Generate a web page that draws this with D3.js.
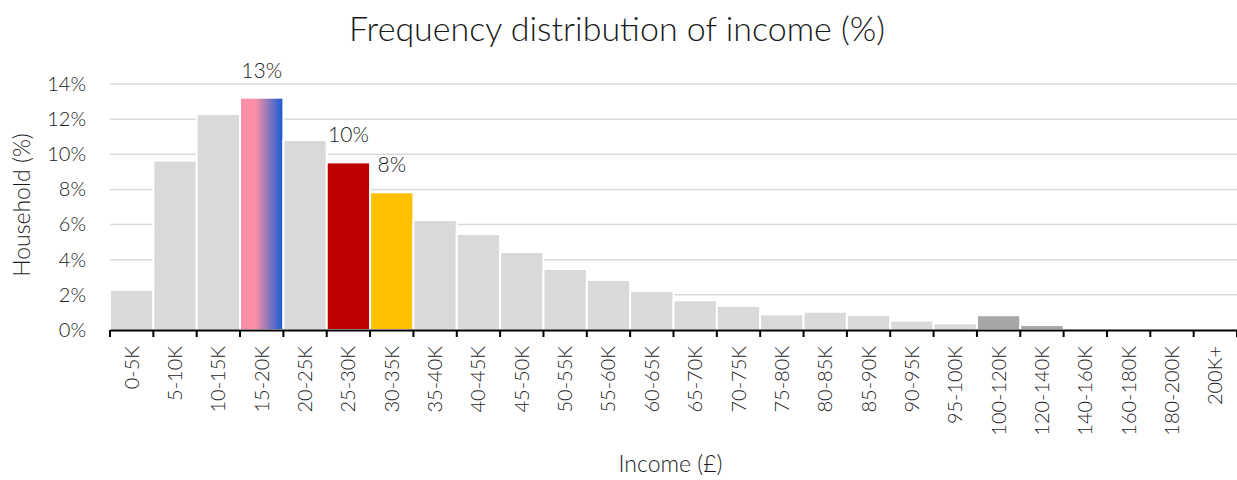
<!DOCTYPE html>
<html>
<head>
<meta charset="utf-8">
<script src="https://cdn.jsdelivr.net/npm/d3@7"></script>
<style>
  body { margin: 0; background: #fff; }
  text { font-family: Lato, "Open Sans", sans-serif; font-weight: 300; fill: #1a1a1a; }
</style>
</head>
<body>
<div id="chart"></div>
<script>
const categories = ["0-5K", "5-10K", "10-15K", "15-20K", "20-25K", "25-30K", "30-35K", "35-40K",
  "40-45K", "45-50K", "50-55K", "55-60K", "60-65K", "65-70K", "70-75K", "75-80K", "80-85K",
  "85-90K", "90-95K", "95-100K", "100-120K", "120-140K", "140-160K", "160-180K", "180-200K", "200K+"];
const values = [2.28, 9.64, 12.29, 13.22, 10.81, 9.54, 7.84, 6.26, 5.46, 4.44, 3.47, 2.85, 2.22,
  1.69, 1.37, 0.89, 1.04, 0.85, 0.53, 0.38, 0.84, 0.28, 0, 0, 0, 0];
const yTicks = [0, 2, 4, 6, 8, 10, 12, 14];
const labelled = ["15-20K", "25-30K", "30-35K"];

const data = categories.map((c, i) => ({ cat: c, value: values[i] }));

const width = 1237;
const height = 480;
const margin = { top: 84, left: 110, bottom: 150, right: 0 };
const iwidth = width - margin.left - margin.right;
const iheight = height - margin.top - margin.bottom;

const svg = d3.select("#chart").append("svg")
  .attr("width", width)
  .attr("height", height);

const defs = svg.append("defs");
const grad = defs.append("linearGradient").attr("id", "grad1520")
  .attr("x1", "0%").attr("x2", "100%").attr("y1", "0%").attr("y2", "0%");
grad.append("stop").attr("offset", "0%").attr("stop-color", "#ff8fa6");
grad.append("stop").attr("offset", "35%").attr("stop-color", "#ff8fa6");
grad.append("stop").attr("offset", "95%").attr("stop-color", "#1f5fd4");
grad.append("stop").attr("offset", "100%").attr("stop-color", "#1f5fd4");

const fillFor = d => {
  if (d.cat === "15-20K") return "url(#grad1520)";
  if (d.cat === "25-30K") return "#c00000";
  if (d.cat === "30-35K") return "#ffc000";
  if (d.cat === "100-120K" || d.cat === "120-140K") return "#a6a6a6";
  return "#d9d9d9";
};

const g = svg.append("g").attr("transform", `translate(${margin.left},${margin.top})`);

const y = d3.scaleLinear().domain([0, 14]).range([iheight, 0]);
const x = d3.scaleBand().domain(categories).range([0, iwidth]).padding(0);

// gridlines
g.append("g")
  .selectAll("line")
  .data(yTicks.filter(t => t > 0))
  .enter().append("line")
  .attr("x1", 0).attr("x2", iwidth)
  .attr("y1", d => y(d)).attr("y2", d => y(d))
  .attr("stroke", "#d9d9d9")
  .attr("stroke-width", 1.5);

// bars
g.selectAll("rect.bar")
  .data(data)
  .enter().append("rect")
  .attr("class", "bar")
  .attr("x", d => x(d.cat))
  .attr("y", d => y(d.value))
  .attr("width", x.bandwidth())
  .attr("height", d => iheight - y(d.value))
  .attr("fill", fillFor)
  .attr("stroke", "#fff")
  .attr("stroke-width", 2);

// data labels
g.selectAll("text.lbl")
  .data(data.filter(d => labelled.includes(d.cat)))
  .enter().append("text")
  .attr("class", "lbl")
  .attr("x", d => x(d.cat) + x.bandwidth() / 2)
  .attr("y", d => y(d.value) - 20)
  .attr("text-anchor", "middle")
  .style("font-size", "21px")
  .text(d => Math.round(d.value) + "%");

// y axis (labels only)
const yAxis = g.append("g")
  .call(d3.axisLeft(y).tickValues(yTicks).tickSize(0).tickPadding(24).tickFormat(d => d + "%"));
yAxis.select(".domain").remove();
yAxis.selectAll("text").style("font-size", "20px").style("font-family", "Lato, sans-serif")
  .style("font-weight", 300).attr("fill", "#1a1a1a");

// x axis
const xAxis = g.append("g")
  .attr("transform", `translate(0,${iheight})`)
  .call(d3.axisBottom(x).tickSize(0).tickPadding(0));
xAxis.select(".domain").attr("stroke", "#000").attr("stroke-width", 2);
xAxis.selectAll("text")
  .style("font-size", "20px")
  .style("font-family", "Lato, sans-serif")
  .style("font-weight", 300)
  .attr("fill", "#1a1a1a")
  .attr("transform", "rotate(-90)")
  .attr("text-anchor", "end")
  .attr("x", -16)
  .attr("y", 0)
  .attr("dy", "0.35em");

// boundary ticks
const bounds = categories.map(c => x(c)).concat([iwidth]);
xAxis.append("g")
  .selectAll("line")
  .data(bounds)
  .enter().append("line")
  .attr("x1", d => d).attr("x2", d => d)
  .attr("y1", 0).attr("y2", 7)
  .attr("stroke", "#000")
  .attr("stroke-width", 2);

// title
svg.append("text")
  .attr("x", 617).attr("y", 41)
  .attr("text-anchor", "middle")
  .style("font-size", "34px")
  .text("Frequency distribution of income (%)");

// axis titles
svg.append("text")
  .attr("x", margin.left + iwidth / 2 - 3).attr("y", 472)
  .attr("text-anchor", "middle")
  .style("font-size", "23px")
  .text("Income (£)");

svg.append("text")
  .attr("transform", `translate(30,${margin.top + iheight / 2 - 2}) rotate(-90)`)
  .attr("text-anchor", "middle")
  .style("font-size", "23px")
  .text("Household (%)");
</script>
</body>
</html>
